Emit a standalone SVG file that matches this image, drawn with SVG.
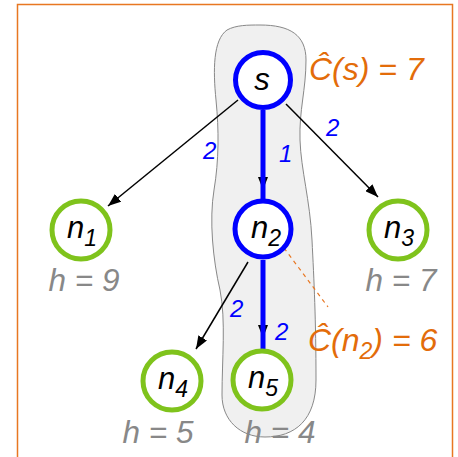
<svg xmlns="http://www.w3.org/2000/svg" width="458" height="457" viewBox="0 0 458 457">
<style>
.nb{fill:#fff;stroke:#0000ff;stroke-width:5}
.ng{fill:#fff;stroke:#7fc31c;stroke-width:5}
.lbl{font-family:"Liberation Sans",Arial,sans-serif;font-style:italic;font-size:31px;fill:#000}
.sub{font-size:23px}
.h{font-family:"Liberation Sans",Arial,sans-serif;font-style:italic;font-size:31.5px;fill:#888}
.w{font-family:"Liberation Sans",Arial,sans-serif;font-style:italic;font-size:24px;fill:#0000ff}
.c{font-family:"Liberation Sans",Arial,sans-serif;font-style:italic;font-size:32px;fill:#e36c0a}
.e{stroke:#000;stroke-width:1.5;fill:none}
.eb{stroke:#0000ff;stroke-width:5;fill:none}
</style>
<defs>
<marker id="ah" markerUnits="userSpaceOnUse" markerWidth="14" markerHeight="10" refX="13" refY="5" orient="auto">
<path d="M0,0 L13,5 L0,10 Z" fill="#000"/>
</marker>
</defs>
<rect x="17.5" y="4.5" width="435" height="470" fill="#fff" stroke="#e87722" stroke-width="1.5"/>
<path d="M260 25 C290 25 306 35 306 60 C306 90 299 110 300 140 C301 170 310 200 312 240 C314 280 316 320 316 380 C316 420 295 437 265 437 C240 437 222 420 222 395 C222 360 226 320 220 290 C213 260 209 220 214 190 C219 160 219 130 216 100 C213 70 213 40 227 30 C236 25 248 25 260 25 Z" fill="#f0f0f0" stroke="#888" stroke-width="1"/>
<g id="connectors">
<line class="e" x1="238" y1="100" x2="108" y2="206" marker-end="url(#ah)"/>
<line class="e" x1="286" y1="104" x2="378" y2="197" marker-end="url(#ah)"/>
<line class="e" x1="263" y1="110" x2="263" y2="190" marker-end="url(#ah)"/>
<line class="eb" x1="263" y1="110" x2="263" y2="199"/>
<line class="e" x1="248" y1="262" x2="196" y2="349" marker-end="url(#ah)"/>
<line class="e" x1="263" y1="260" x2="263" y2="338" marker-end="url(#ah)"/>
<line class="eb" x1="263" y1="260" x2="263" y2="350"/>
<line x1="284" y1="248" x2="328" y2="307" stroke="#e87722" stroke-width="1.2" stroke-dasharray="4,4"/>
<text class="w" x="203" y="159">2</text>
<text class="w" x="279" y="162">1</text>
<text class="w" x="326" y="136">2</text>
<text class="w" x="230" y="317">2</text>
<text class="w" x="275" y="340">2</text>
</g>
<g id="s">
<circle class="nb" cx="263" cy="80" r="27.5"/>
<text class="lbl" x="262" y="90" text-anchor="middle">s</text>
<text class="c" x="309" y="80">Ĉ(s) = 7</text>
</g>
<g id="n2">
<circle class="nb" cx="263" cy="229" r="28"/>
<text class="lbl" x="266" y="238" text-anchor="middle">n<tspan class="sub" dy="8">2</tspan></text>
<text class="c" x="308" y="351">Ĉ(n<tspan class="sub" dy="8">2</tspan><tspan dy="-8">) = 6</tspan></text>
</g>
<g id="n1">
<circle class="ng" cx="81" cy="230" r="29"/>
<text class="lbl" x="82" y="238" text-anchor="middle">n<tspan class="sub" dy="8">1</tspan></text>
<text class="h" x="84" y="291" text-anchor="middle">h = 9</text>
</g>
<g id="n3">
<circle class="ng" cx="398" cy="230" r="29"/>
<text class="lbl" x="399" y="238" text-anchor="middle">n<tspan class="sub" dy="8">3</tspan></text>
<text class="h" x="401" y="291" text-anchor="middle">h = 7</text>
</g>
<g id="n4">
<circle class="ng" cx="172" cy="381" r="29"/>
<text class="lbl" x="173" y="389" text-anchor="middle">n<tspan class="sub" dy="8">4</tspan></text>
<text class="h" x="158" y="443" text-anchor="middle">h = 5</text>
</g>
<g id="n5">
<circle class="ng" cx="262" cy="380" r="29"/>
<text class="lbl" x="263" y="388" text-anchor="middle">n<tspan class="sub" dy="8">5</tspan></text>
<text class="h" x="280" y="443" text-anchor="middle">h = 4</text>
</g>
</svg>
